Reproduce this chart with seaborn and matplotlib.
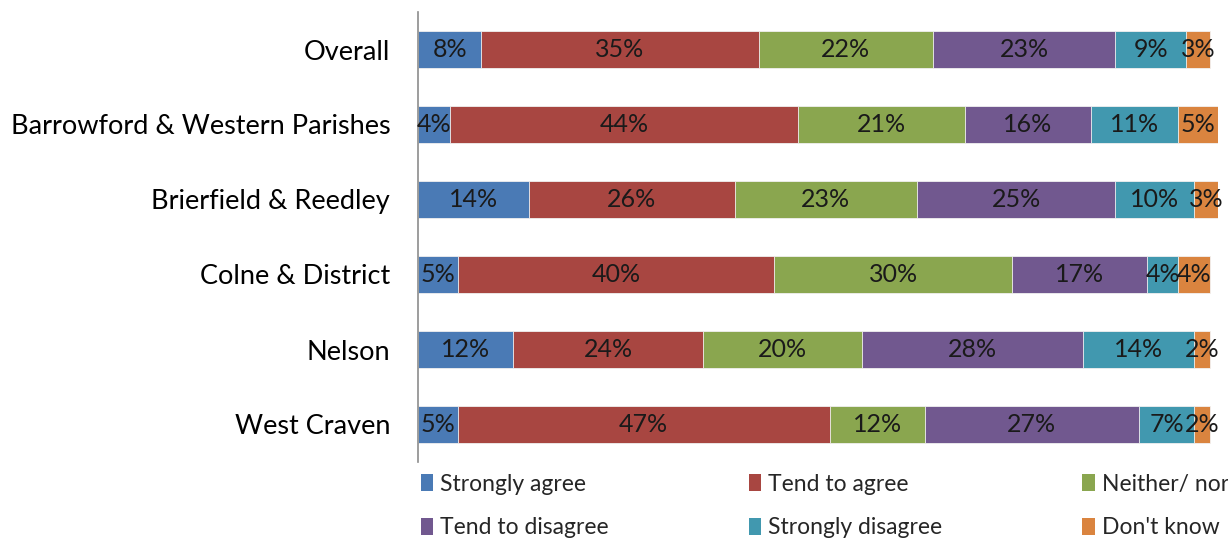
import matplotlib
matplotlib.use("Agg")
import matplotlib.pyplot as plt
from matplotlib.patches import Patch
import numpy as np
import pandas as pd
import seaborn as sns

areas = ["Overall", "Barrowford & Western Parishes", "Brierfield & Reedley",
         "Colne & District", "Nelson", "West Craven"]
responses = ["Strongly agree", "Tend to agree", "Neither/ nor",
             "Tend to disagree", "Strongly disagree", "Don't know"]
strongly_agree = [8, 4, 14, 5, 12, 5]
tend_to_agree = [35, 44, 26, 40, 24, 47]
neither_nor = [22, 21, 23, 30, 20, 12]
tend_to_disagree = [23, 16, 25, 17, 28, 27]
strongly_disagree = [9, 11, 10, 4, 14, 7]
dont_know = [3, 5, 3, 4, 2, 2]

series = [strongly_agree, tend_to_agree, neither_nor,
          tend_to_disagree, strongly_disagree, dont_know]
colors = ["#4a7ab5", "#a84641", "#8aa64f", "#71588f", "#4198af", "#da843f"]

sns.set_theme(style="white")
plt.rcParams["font.family"] = ["Lato", "DejaVu Sans"]

fig = plt.figure(figsize=(12.28, 5.40), dpi=100)
ax = fig.add_axes([418 / 1228, 1 - 462 / 540, 800 / 1228, 450 / 540])

vals = np.array(series, dtype=float)
cum = np.cumsum(vals, axis=0)

# stacked bars: draw cumulative totals from the outermost layer inwards
for i in range(len(series) - 1, -1, -1):
    df = pd.DataFrame({"area": areas, "total": cum[i]})
    sns.barplot(data=df, x="total", y="area", orient="h", color=colors[i],
                width=0.5, saturation=1, edgecolor="#f2f2f2", linewidth=0.6,
                ax=ax)

# percentage labels centred in each segment
for i, s in enumerate(series):
    for j, v in enumerate(s):
        ax.text(cum[i][j] - v / 2, j, f"{v}%", ha="center", va="center",
                fontsize=18, color="#1a1a1a")

ax.set_xlim(0, 101)
ax.set_ylim(5.5, -0.5)
ax.set_xlabel("")
ax.set_ylabel("")
ax.set_xticks([])
ax.tick_params(axis="y", length=0, pad=20, labelsize=19.5, labelcolor="black")
for side in ["top", "right", "bottom"]:
    ax.spines[side].set_visible(False)
ax.spines["left"].set_color("#8c8c8c")
ax.spines["left"].set_linewidth(1.2)

order = [0, 3, 1, 4, 2, 5]
handles = [Patch(facecolor=colors[k], edgecolor="none") for k in order]
labels = [responses[k] for k in order]
fig.legend(handles, labels, ncol=3, loc="upper left",
           bbox_to_anchor=(414 / 1228, 1 - 467 / 540), frameon=False,
           fontsize=16.5, handlelength=0.55, handleheight=0.75,
           handletextpad=0.3, columnspacing=6.1, labelspacing=0.98,
           borderaxespad=0, borderpad=0.3)

fig.savefig("out.png", dpi=100)
